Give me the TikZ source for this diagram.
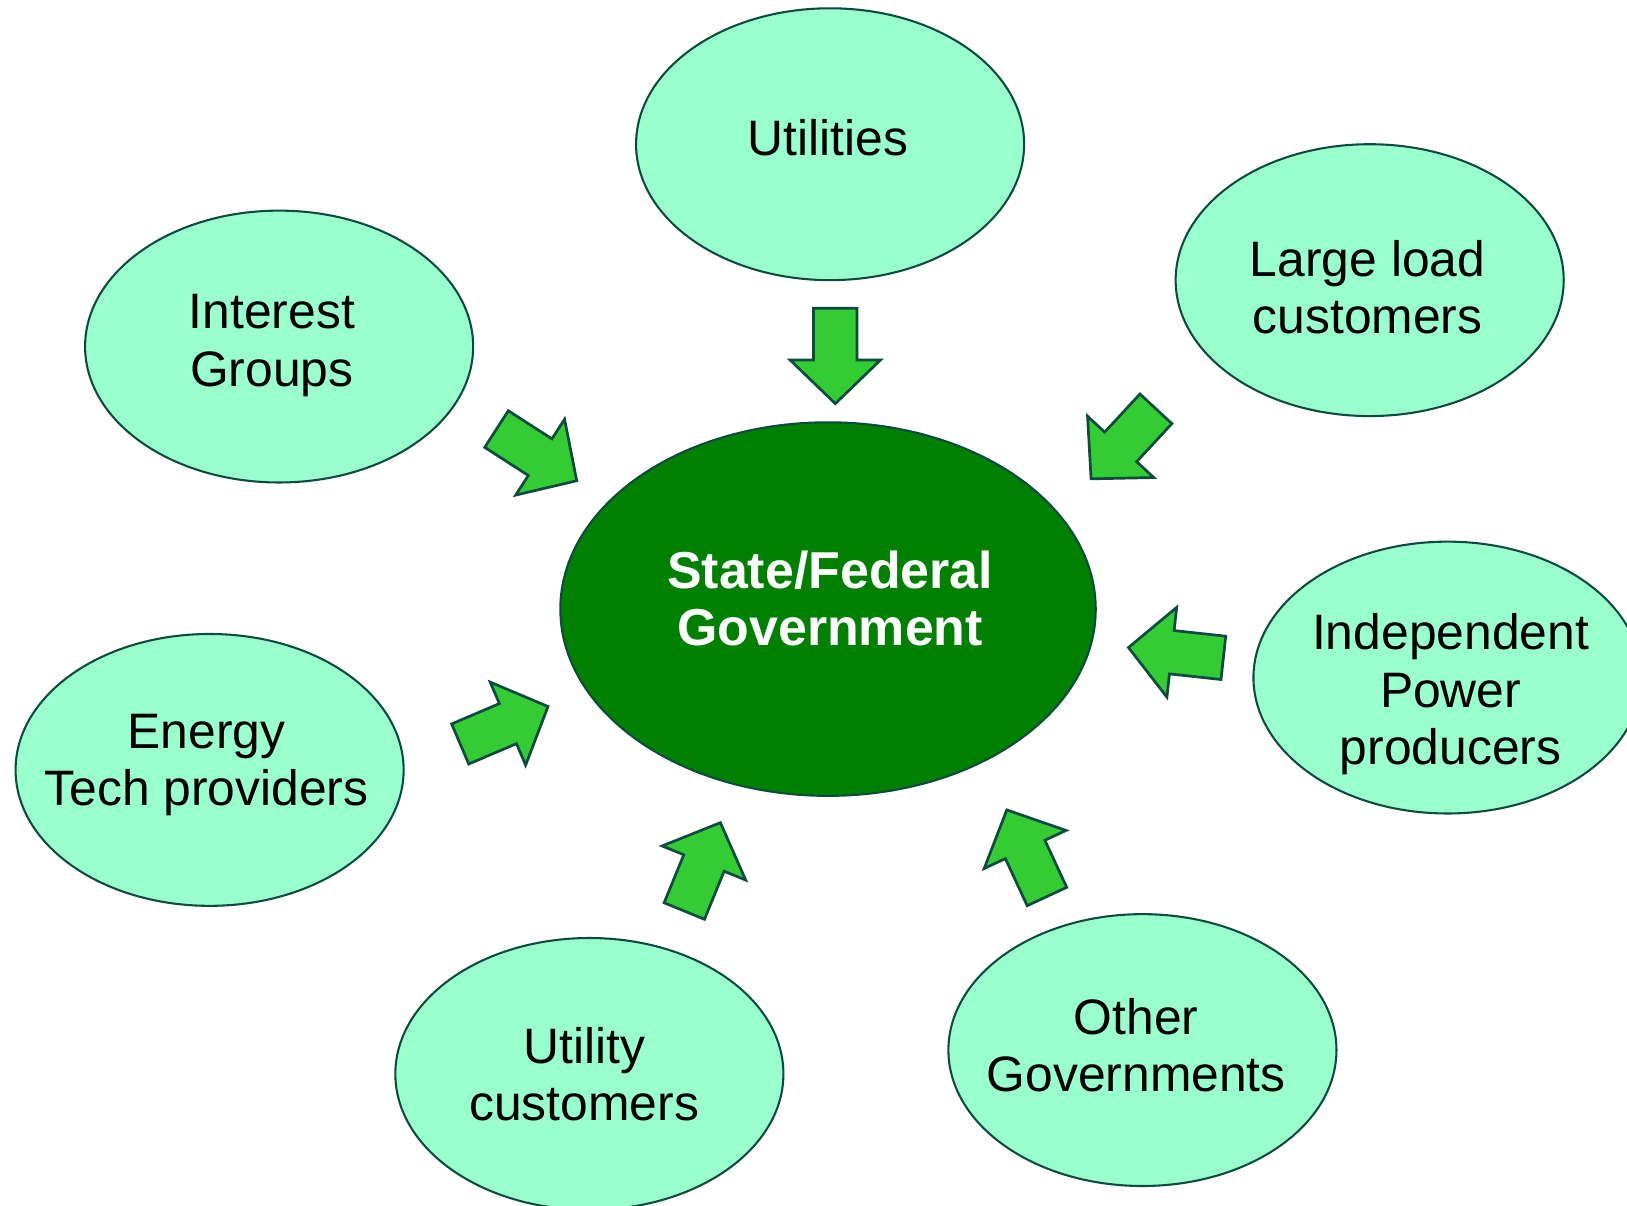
\documentclass[tikz,border=0pt]{standalone}
\usepackage{fontspec}
\setmainfont{Liberation Sans}
\usetikzlibrary{shapes.geometric}

\definecolor{mint}{HTML}{99FFCC}
\definecolor{edgeteal}{HTML}{0D4A40}
\definecolor{govgreen}{HTML}{008000}
\definecolor{arrowgreen}{HTML}{33CC33}

\begin{document}
\begin{tikzpicture}[x=0.5pt,y=0.5pt,
    bubble/.style={ellipse,draw=edgeteal,fill=mint,line width=1pt,
      minimum width=187pt,minimum height=131pt,inner sep=0pt},
    govbubble/.style={ellipse,draw=edgeteal,fill=govgreen,line width=1pt,
      minimum width=258pt,minimum height=180pt,inner sep=0pt},
    bubtext/.style={align=center,font=\fontsize{24}{27.5}\selectfont},
    govtext/.style={align=center,text=white,font=\fontsize{25}{27.5}\selectfont\bfseries},
    garrow/.style={draw=edgeteal,fill=arrowgreen,line width=1.3pt,line join=miter}]

      \useasboundingbox (0,0) rectangle (1568,1162);
      \clip (0,0) rectangle (1568,1162);

      % the government in the middle
      \node[govbubble] (gov) at (798,575) {};
      \node[govtext] (govlbl) at (800,585) {State/Federal\\Government};

      % the parties round it
      \node[bubble] (util) at (800,1023) {};
      \node[bubble] (large) at (1320,892) {};
      \node[bubble] (interest) at (269,828) {};
      \node[bubble] (energy) at (202,420) {};
      \node[bubble] (indep) at (1395,509) {};
      \node[bubble] (other) at (1101,150) {};
      \node[bubble] (ucust) at (568,127) {};

      \node[bubtext] (utillbl) at (798,1029) {Utilities};
      \node[bubtext] (largelbl) at (1318,885) {Large load\\customers};
      \node[bubtext] (interestlbl) at (262,829) {Interest\\Groups};
      \node[bubtext] (energylbl) at (199,425) {Energy\\Tech providers};
      \node[bubtext] (indeplbl) at (1398,493) {Independent\\Power\\producers};
      \node[bubtext] (otherlbl) at (1095,155) {Other\\Governments};
      \node[bubtext] (ucustlbl) at (563,127) {Utility\\customers};

      % block arrows pointing at the middle
      \foreach \x/\y/\a in {805/865/-90, 478.5/748.5/-32.8, 1114/768/-132.8,
          1179/528/173.8, 1009/298/114.9, 659.5/284/67.8, 443.5/445/23.1}
        \draw[garrow,shift={(\x,\y)},rotate=\a]
          (0,-21) -- (50,-21) -- (50,-43.5) -- (92,0) -- (50,43.5) -- (50,21) -- (0,21) -- cycle;

\end{tikzpicture}
\end{document}
